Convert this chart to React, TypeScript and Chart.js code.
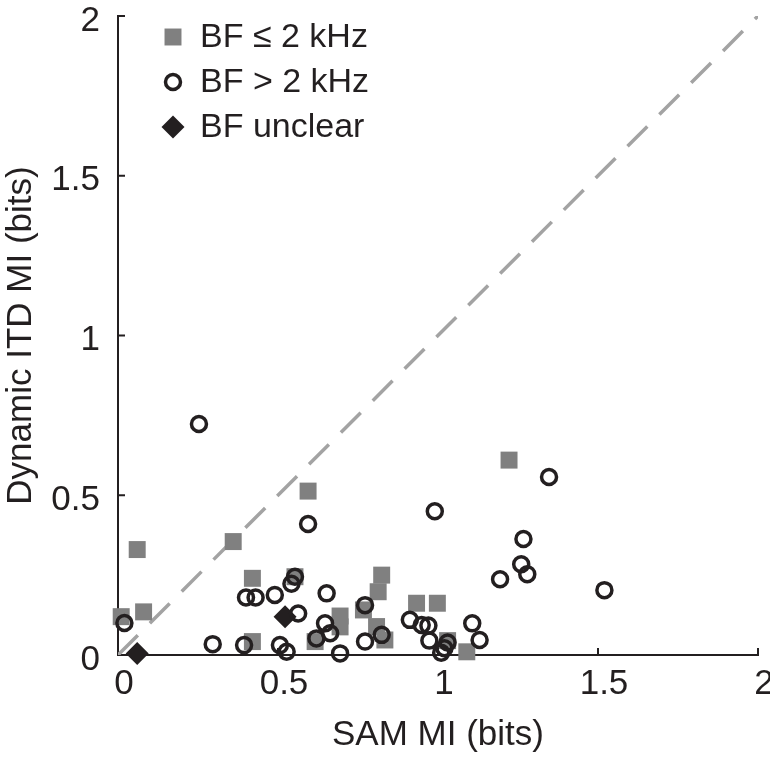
import React, { useEffect, useRef } from 'react';
import { Chart, registerables } from 'chart.js';
import { drawPoint } from 'chart.js/helpers';

Chart.register(...registerables);

// ---- data ----
// BF <= 2 kHz (grey squares)
const lowBfSam = [0.01, 0.06, 0.08, 0.36, 0.42, 0.42, 0.553, 0.594, 0.616, 0.694, 0.694, 0.767, 0.824, 0.813, 0.808, 0.834, 0.933, 0.998, 1.03, 1.09, 1.222];
const lowBfItd = [0.12, 0.33, 0.135, 0.355, 0.24, 0.042, 0.245, 0.513, 0.042, 0.122, 0.088, 0.141, 0.25, 0.198, 0.089, 0.047, 0.162, 0.162, 0.045, 0.01, 0.61];

// BF > 2 kHz (open circles)
const highBfSam = [0.02, 0.253, 0.296, 0.394, 0.40, 0.43, 0.49, 0.506, 0.527, 0.542, 0.553, 0.563, 0.594, 0.62, 0.647, 0.652, 0.663, 0.694, 0.772, 0.772, 0.824, 0.912, 0.949, 0.97, 0.973, 0.99, 1.01, 1.02, 1.03, 1.107, 1.13, 1.194, 1.26, 1.267, 1.279, 1.347, 1.52];
const highBfItd = [0.10, 0.723, 0.034, 0.031, 0.18, 0.18, 0.188, 0.031, 0.01, 0.223, 0.245, 0.13, 0.41, 0.052, 0.099, 0.193, 0.068, 0.005, 0.156, 0.042, 0.063, 0.11, 0.094, 0.092, 0.045, 0.45, 0.007, 0.021, 0.039, 0.099, 0.047, 0.237, 0.284, 0.363, 0.253, 0.557, 0.203];

// BF unclear (black diamonds)
const unclearSam = [0.06, 0.522];
const unclearItd = [0.005, 0.12];

// unity line
const unityLine = [0, 2];

const tickValues = [0, 0.5, 1, 1.5, 2];
const tickLabels = ['0', '0.5', '1', '1.5', '2'];
const seriesLabels = ['BF \u2264 2 kHz', 'BF > 2 kHz', 'BF unclear'];
const xTitle = 'SAM MI (bits)';
const yTitle = 'Dynamic ITD MI (bits)';

const INK = '#231f20';
const GREY = '#808080';
const DASH = '#a3a3a3';
const FONT = "'Liberation Sans', Arial, Helvetica, sans-serif";

const toPoints = (xs: number[], ys: number[]) => xs.map((x, i) => ({ x, y: ys[i] }));

const inwardTicks = {
  id: 'inwardTicks',
  beforeDatasetsDraw(chart: any) {
    const { ctx, chartArea, scales } = chart;
    const xs = scales.x;
    const ys = scales.y;
    ctx.save();
    ctx.strokeStyle = INK;
    ctx.lineWidth = 2;
    ctx.beginPath();
    for (const v of tickValues) {
      const px = xs.getPixelForValue(v);
      ctx.moveTo(px, chartArea.bottom);
      ctx.lineTo(px, chartArea.bottom - 7);
      const py = ys.getPixelForValue(v);
      ctx.moveTo(chartArea.left, py);
      ctx.lineTo(chartArea.left + 7, py);
    }
    ctx.stroke();
    ctx.restore();
  },
};

const insetLegend = {
  id: 'insetLegend',
  afterDatasetsDraw(chart: any) {
    const { ctx, chartArea } = chart;
    ctx.save();
    const order = [2, 0, 1]; // squares, circles, diamonds
    order.forEach((dsIndex, row) => {
      const ds = chart.data.datasets[dsIndex];
      const cx = chartArea.left + 55;
      const cy = chartArea.top + 21 + row * 45;
      ctx.fillStyle = ds.backgroundColor;
      ctx.strokeStyle = ds.borderColor;
      ctx.lineWidth = ds.borderWidth;
      drawPoint(ctx, { pointStyle: ds.pointStyle, radius: ds.pointRadius, borderWidth: ds.borderWidth, rotation: 0 } as any, cx, cy);
      ctx.fillStyle = INK;
      ctx.font = `34px ${FONT}`;
      ctx.textAlign = 'left';
      ctx.textBaseline = 'middle';
      ctx.fillText(ds.label, chartArea.left + 82, cy + 1);
    });
    ctx.restore();
  },
};

export default function App() {
  const canvasRef = useRef<HTMLCanvasElement | null>(null);

  useEffect(() => {
    const canvas = canvasRef.current;
    if (!canvas) return;
    const chart = new Chart(canvas, {
      type: 'scatter',
      data: {
        datasets: [
          {
            label: seriesLabels[1],
            data: toPoints(highBfSam, highBfItd),
            pointStyle: 'circle',
            pointRadius: 7.5,
            borderWidth: 3.5,
            borderColor: INK,
            backgroundColor: 'rgba(0,0,0,0)',
            clip: false,
            order: 1,
          } as any,
          {
            label: seriesLabels[2],
            data: toPoints(unclearSam, unclearItd),
            pointStyle: 'rectRot',
            pointRadius: 11.5,
            borderWidth: 0,
            borderColor: INK,
            backgroundColor: INK,
            clip: false,
            order: 2,
          } as any,
          {
            label: seriesLabels[0],
            data: toPoints(lowBfSam, lowBfItd),
            pointStyle: 'rect',
            pointRadius: 12,
            borderWidth: 0,
            borderColor: GREY,
            backgroundColor: GREY,
            clip: false,
            order: 3,
          } as any,
          {
            type: 'line',
            label: 'unity',
            data: unityLine.map((v) => ({ x: v, y: v })),
            borderColor: DASH,
            borderWidth: 3.5,
            borderDash: [28, 17],
            pointRadius: 0,
            fill: false,
            showLine: true,
            order: 4,
          } as any,
        ],
      },
      options: {
        animation: false,
        responsive: false,
        events: [],
        layout: { padding: { left: 0, right: 12, top: 16, bottom: 0 } },
        plugins: {
          legend: { display: false },
          tooltip: { enabled: false },
        },
        scales: {
          x: {
            type: 'linear',
            position: 'bottom',
            min: 0,
            max: 2,
            grid: { display: false, drawTicks: false },
            border: { display: true, color: INK, width: 2 },
            afterBuildTicks: (s: any) => {
              s.ticks = tickValues.map((v) => ({ value: v }));
            },
            ticks: {
              autoSkip: false,
              maxRotation: 0,
              color: INK,
              padding: 8,
              labelOffset: 6,
              font: { family: FONT, size: 35 },
              callback: (v: any) => tickLabels[tickValues.indexOf(Number(v))] ?? '',
            },
            title: {
              display: true,
              text: xTitle,
              color: INK,
              font: { family: FONT, size: 35 },
              padding: { top: 0, bottom: 4 },
            },
            afterFit: (s: any) => {
              s.height = 105;
              s.paddingLeft = 0;
              s.paddingRight = 0;
            },
          },
          y: {
            type: 'linear',
            min: 0,
            max: 2,
            grid: { display: false, drawTicks: false },
            border: { display: true, color: INK, width: 2 },
            afterBuildTicks: (s: any) => {
              s.ticks = tickValues.map((v) => ({ value: v }));
            },
            ticks: {
              autoSkip: false,
              color: INK,
              padding: 18,
              labelOffset: 5,
              font: { family: FONT, size: 35 },
              callback: (v: any) => tickLabels[tickValues.indexOf(Number(v))] ?? '',
            },
            title: {
              display: true,
              text: yTitle,
              color: INK,
              font: { family: FONT, size: 35 },
              padding: { top: 0, bottom: 0 },
            },
            afterFit: (s: any) => {
              s.width = 118;
              s.paddingTop = 0;
              s.paddingBottom = 0;
            },
          },
        },
      },
      plugins: [inwardTicks, insetLegend],
    });
    return () => chart.destroy();
  }, []);

  return (
    <div style={{ position: 'absolute', left: 0, top: 0, width: 770, height: 760, background: '#fff' }}>
      <canvas ref={canvasRef} width={770} height={760} style={{ width: 770, height: 760, display: 'block' }} />
    </div>
  );
}
